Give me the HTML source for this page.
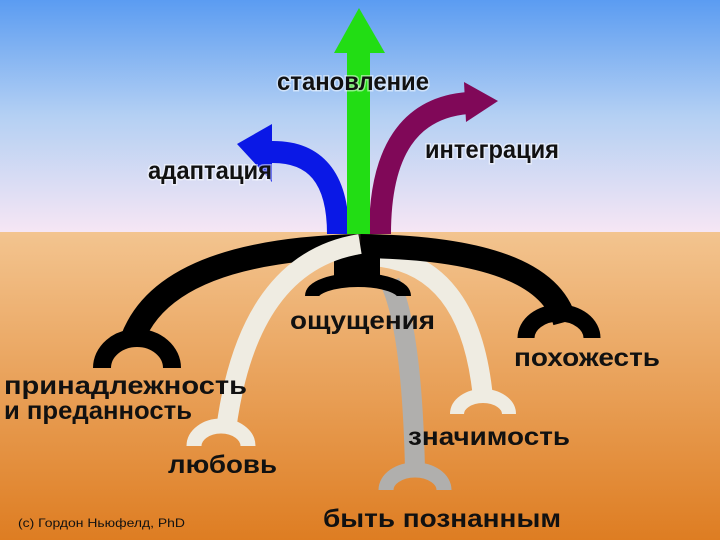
<!DOCTYPE html>
<html><head><meta charset="utf-8"><style>
html,body{margin:0;padding:0}
body{width:720px;height:540px;overflow:hidden}
svg text{font-family:"Liberation Sans","DejaVu Sans",sans-serif;font-weight:bold;fill:#111}
</style></head><body>
<svg width="720" height="540" viewBox="0 0 720 540" xmlns="http://www.w3.org/2000/svg">
<defs>
<linearGradient id="sky" x1="0" y1="0" x2="0" y2="1">
<stop offset="0" stop-color="#5b9cf2"/><stop offset="0.5" stop-color="#b4d0f3"/><stop offset="1" stop-color="#f6e6f4"/></linearGradient>
<linearGradient id="gr" x1="0" y1="0" x2="0" y2="1">
<stop offset="0" stop-color="#f3c48f"/><stop offset="1" stop-color="#de7d22"/></linearGradient>
</defs>
<rect x="0" y="0" width="720" height="232" fill="url(#sky)"/>
<rect x="0" y="232" width="720" height="308" fill="url(#gr)"/>
<path d="M338,234 Q338,150 270,152" fill="none" stroke="#0a18e6" stroke-width="22"/>
<polygon points="237,144 272,124 272,182" fill="#0a18e6"/>
<path d="M380,234 Q380,110 468,103" fill="none" stroke="#800858" stroke-width="22"/>
<polygon points="498,101 464,82 466,122" fill="#800858"/>
<rect x="347" y="50" width="23" height="184" fill="#22dd14"/>
<polygon points="359,8 334,53 385,53" fill="#22dd14"/>
<path d="M372,256 Q470,262 483,398" fill="none" stroke="#efece2" stroke-width="20"/>
<path d="M457,414 A26,18 0 0 1 509,414" fill="none" stroke="#efece2" stroke-width="14"/>
<path d="M390,282 Q412,330 415,470" fill="none" stroke="#b0afad" stroke-width="20"/>
<path d="M386,490 A29,20 0 0 1 444,490" fill="none" stroke="#b0afad" stroke-width="15"/>
<path d="M360,246 Q165,250 132,340" fill="none" stroke="#000" stroke-width="24"/>
<path d="M360,246 Q545,248 565,322" fill="none" stroke="#000" stroke-width="24"/>
<path d="M102,368 A35,30 0 0 1 172,368" fill="none" stroke="#000" stroke-width="18"/>
<path d="M526,338 A33,25 0 0 1 592,338" fill="none" stroke="#000" stroke-width="17"/>
<rect x="334" y="254" width="46" height="30" fill="#000"/>
<path d="M312,296 A46,16 0 0 1 404,296" fill="none" stroke="#000" stroke-width="14"/>
<path d="M360,244 Q248,262 226,430" fill="none" stroke="#efece2" stroke-width="20"/>
<path d="M194,446 A27,20 0 0 1 248,446" fill="none" stroke="#efece2" stroke-width="15"/>
<g style="font-size:25px">
<text x="277" y="90" textLength="152" lengthAdjust="spacingAndGlyphs" stroke="#fff" stroke-width="3" stroke-opacity="0.5" paint-order="stroke">становление</text>
<text x="148" y="179" textLength="124" lengthAdjust="spacingAndGlyphs" stroke="#fff" stroke-width="3" stroke-opacity="0.5" paint-order="stroke">адаптация</text>
<text x="425" y="158" textLength="134" lengthAdjust="spacingAndGlyphs" stroke="#fff" stroke-width="3" stroke-opacity="0.5" paint-order="stroke">интеграция</text>
<text x="290" y="329" textLength="145" lengthAdjust="spacingAndGlyphs">ощущения</text>
<text x="514" y="366" textLength="146" lengthAdjust="spacingAndGlyphs">похожесть</text>
<text x="4" y="394" textLength="243" lengthAdjust="spacingAndGlyphs">принадлежность</text>
<text x="4" y="419" textLength="188" lengthAdjust="spacingAndGlyphs">и преданность</text>
<text x="168" y="473" textLength="109" lengthAdjust="spacingAndGlyphs">любовь</text>
<text x="408" y="445" textLength="162" lengthAdjust="spacingAndGlyphs">значимость</text>
<text x="323" y="527" textLength="238" lengthAdjust="spacingAndGlyphs">быть познанным</text>
</g>
<text x="18" y="527" textLength="167" lengthAdjust="spacingAndGlyphs" style="font-size:12px;font-weight:normal">(c) Гордон Ньюфелд, PhD</text>
</svg>
</body></html>
